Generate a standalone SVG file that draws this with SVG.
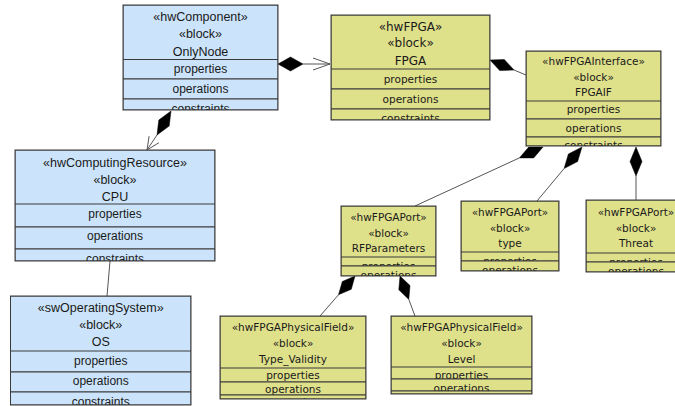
<svg xmlns="http://www.w3.org/2000/svg" width="675" height="406" viewBox="0 0 675 406">
<style>
.bg{fill:#ffffff}
.blue{fill:#cce4fb;stroke:#3a3a3a;stroke-width:1}
.yel{fill:#dfe08a;stroke:#3a3a3a;stroke-width:1}
.border{fill:none;stroke:#3a3a3a;stroke-width:1}
.bt{font-family:"Liberation Sans",Arial,sans-serif;font-size:12.5px;fill:#1a1a1a;text-anchor:middle}
.bc{font-family:"Liberation Sans",Arial,sans-serif;font-size:12px;fill:#1a1a1a;text-anchor:middle}
.yh{font-family:"DejaVu Sans",sans-serif;font-size:12px;fill:#1a1a1a;text-anchor:middle}
.yt{font-family:"DejaVu Sans",sans-serif;font-size:10.5px;fill:#1a1a1a;text-anchor:middle}
.ln{fill:none;stroke:#555555;stroke-width:1}
.dia{fill:#000000;stroke:#000000;stroke-width:0.5}
</style>
<defs>
<clipPath id="cOnly"><rect x="123" y="5" width="155" height="105"/></clipPath>
<clipPath id="cCPU"><rect x="15" y="150" width="200" height="111"/></clipPath>
<clipPath id="cOS"><rect x="10.5" y="296" width="180.5" height="109"/></clipPath>
<clipPath id="cFPGA"><rect x="331" y="15" width="159" height="105"/></clipPath>
<clipPath id="cFPGAIF"><rect x="526" y="51" width="135" height="95"/></clipPath>
<clipPath id="cRF"><rect x="341" y="206" width="95" height="70"/></clipPath>
<clipPath id="cType"><rect x="461" y="201" width="98" height="70"/></clipPath>
<clipPath id="cThreat"><rect x="586" y="200" width="100" height="72"/></clipPath>
<clipPath id="cTV"><rect x="220" y="316" width="146" height="83"/></clipPath>
<clipPath id="cLevel"><rect x="391" y="316" width="141" height="78"/></clipPath>
</defs>
<rect class="bg" x="0" y="0" width="675" height="406"/>

<g id="connectors">
  <!-- OnlyNode to FPGA -->
  <polygon class="dia" points="278,64 290.5,57 303,64 290.5,71"/>
  <line class="ln" x1="303" y1="64" x2="330" y2="64"/>
  <polyline class="ln" points="313,58 330,64 313,70"/>
  <!-- OnlyNode to CPU -->
  <polygon class="dia" points="171,111 169.2,126 157,135 158.8,120"/>
  <line class="ln" x1="157" y1="135" x2="147" y2="150"/>
  <polyline class="ln" points="149.1,136.2 147,150 158.9,142.7"/>
  <!-- CPU to OS -->
  <line class="ln" x1="110" y1="261" x2="107" y2="296"/>
  <!-- FPGA to FPGAIF -->
  <polygon class="dia" points="490,60 499.7,70.5 514,70 504.3,59.5"/>
  <line class="ln" x1="514" y1="70" x2="526" y2="75"/>
  <!-- FPGAIF to RFParameters -->
  <polygon class="dia" points="543,147 533.7,157.9 519.4,157.9 528.7,147.1"/>
  <line class="ln" x1="519.4" y1="157.9" x2="415" y2="206"/>
  <!-- FPGAIF to type -->
  <polygon class="dia" points="582,147 577.6,161.6 564.1,168.5 568.4,154"/>
  <line class="ln" x1="564.1" y1="168.5" x2="537" y2="201"/>
  <!-- FPGAIF to Threat -->
  <polygon class="dia" points="636,147 642,161.5 636,176 630,161.5"/>
  <line class="ln" x1="636" y1="176" x2="636" y2="200"/>
  <!-- RFParameters to Type_Validity -->
  <polygon class="dia" points="355,276 351.3,289.3 338.5,294.8 342.3,281.5"/>
  <line class="ln" x1="338.5" y1="294.8" x2="320" y2="316"/>
  <!-- RFParameters to Level -->
  <polygon class="dia" points="400,276 410,285.6 408.8,299.4 398.8,289.8"/>
  <line class="ln" x1="408.8" y1="299.4" x2="415" y2="316"/>
</g>

<g id="OnlyNode">
  <g clip-path="url(#cOnly)">
    <rect class="blue" x="123" y="5" width="155" height="105"/>
    <text class="bt" x="200.5" y="20.5">«hwComponent»</text>
    <text class="bt" x="200.5" y="37.5">«block»</text>
    <text class="bt" x="200.5" y="55.5">OnlyNode</text>
    <rect class="blue" x="123" y="59.5" width="155" height="19.5"/>
    <text class="bc" x="200.5" y="72.5">properties</text>
    <rect class="blue" x="123" y="79" width="155" height="20"/>
    <text class="bc" x="200.5" y="92.5">operations</text>
    <rect class="blue" x="123" y="99" width="155" height="11"/>
    <text class="bc" x="200.5" y="112.5">constraints</text>
  </g>
  <rect class="border" x="123" y="5" width="155" height="105"/>
</g>

<g id="CPU">
  <g clip-path="url(#cCPU)">
    <rect class="blue" x="15" y="150" width="200" height="111"/>
    <text class="bt" x="115" y="166.5">«hwComputingResource»</text>
    <text class="bt" x="115" y="183.5">«block»</text>
    <text class="bt" x="115" y="200.5">CPU</text>
    <rect class="blue" x="15" y="204" width="200" height="23"/>
    <text class="bc" x="115" y="217.5">properties</text>
    <rect class="blue" x="15" y="227" width="200" height="22"/>
    <text class="bc" x="115" y="239.5">operations</text>
    <rect class="blue" x="15" y="249" width="200" height="12"/>
    <text class="bc" x="115" y="262.5">constraints</text>
  </g>
  <rect class="border" x="15" y="150" width="200" height="111"/>
</g>

<g id="OS">
  <g clip-path="url(#cOS)">
    <rect class="blue" x="10.5" y="296" width="180.5" height="109"/>
    <text class="bt" x="100.75" y="311.5">«swOperatingSystem»</text>
    <text class="bt" x="100.75" y="328.5">«block»</text>
    <text class="bt" x="100.75" y="345.5">OS</text>
    <rect class="blue" x="10.5" y="351" width="180.5" height="21"/>
    <text class="bc" x="100.75" y="364.5">properties</text>
    <rect class="blue" x="10.5" y="372" width="180.5" height="20"/>
    <text class="bc" x="100.75" y="384.5">operations</text>
    <rect class="blue" x="10.5" y="392" width="180.5" height="13"/>
    <text class="bc" x="100.75" y="405.5">constraints</text>
  </g>
  <rect class="border" x="10.5" y="296" width="180.5" height="109"/>
</g>

<g id="FPGA">
  <g clip-path="url(#cFPGA)">
    <rect class="yel" x="331" y="15" width="159" height="105"/>
    <text class="yh" x="410.5" y="31.3">«hwFPGA»</text>
    <text class="yh" x="410.5" y="47.3">«block»</text>
    <text class="yh" x="410.5" y="65.3">FPGA</text>
    <rect class="yel" x="331" y="69" width="159" height="20"/>
    <text class="yt" x="410.5" y="83">properties</text>
    <rect class="yel" x="331" y="89" width="159" height="20"/>
    <text class="yt" x="410.5" y="103">operations</text>
    <rect class="yel" x="331" y="109" width="159" height="11"/>
    <text class="yt" x="410.5" y="122">constraints</text>
  </g>
  <rect class="border" x="331" y="15" width="159" height="105"/>
</g>

<g id="FPGAIF">
  <g clip-path="url(#cFPGAIF)">
    <rect class="yel" x="526" y="51" width="135" height="95"/>
    <text class="yt" x="593.5" y="65">«hwFPGAInterface»</text>
    <text class="yt" x="593.5" y="81">«block»</text>
    <text class="yt" x="593.5" y="96">FPGAIF</text>
    <rect class="yel" x="526" y="101" width="135" height="18"/>
    <text class="yt" x="593.5" y="113">properties</text>
    <rect class="yel" x="526" y="119" width="135" height="18"/>
    <text class="yt" x="593.5" y="132">operations</text>
    <rect class="yel" x="526" y="137" width="135" height="9"/>
    <text class="yt" x="593.5" y="149">constraints</text>
  </g>
  <rect class="border" x="526" y="51" width="135" height="95"/>
</g>

<g id="RFParameters">
  <g clip-path="url(#cRF)">
    <rect class="yel" x="341" y="206" width="95" height="70"/>
    <text class="yt" x="388.5" y="221">«hwFPGAPort»</text>
    <text class="yt" x="388.5" y="237">«block»</text>
    <text class="yt" x="388.5" y="252">RFParameters</text>
    <rect class="yel" x="341" y="257" width="95" height="9"/>
    <text class="yt" x="388.5" y="270">properties</text>
    <rect class="yel" x="341" y="266" width="95" height="10"/>
    <text class="yt" x="388.5" y="279">operations</text>
  </g>
  <rect class="border" x="341" y="206" width="95" height="70"/>
</g>

<g id="type">
  <g clip-path="url(#cType)">
    <rect class="yel" x="461" y="201" width="98" height="70"/>
    <text class="yt" x="510" y="216">«hwFPGAPort»</text>
    <text class="yt" x="510" y="232">«block»</text>
    <text class="yt" x="510" y="247">type</text>
    <rect class="yel" x="461" y="252" width="98" height="9"/>
    <text class="yt" x="510" y="265">properties</text>
    <rect class="yel" x="461" y="261" width="98" height="10"/>
    <text class="yt" x="510" y="274">operations</text>
  </g>
  <rect class="border" x="461" y="201" width="98" height="70"/>
</g>

<g id="Threat">
  <g clip-path="url(#cThreat)">
    <rect class="yel" x="586" y="200" width="100" height="72"/>
    <text class="yt" x="636" y="216">«hwFPGAPort»</text>
    <text class="yt" x="636" y="232">«block»</text>
    <text class="yt" x="636" y="247">Threat</text>
    <rect class="yel" x="586" y="253" width="100" height="9"/>
    <text class="yt" x="636" y="266">properties</text>
    <rect class="yel" x="586" y="262" width="100" height="10"/>
    <text class="yt" x="636" y="275">operations</text>
  </g>
  <rect class="border" x="586" y="200" width="100" height="72"/>
</g>

<g id="Type_Validity">
  <g clip-path="url(#cTV)">
    <rect class="yel" x="220" y="316" width="146" height="83"/>
    <text class="yt" x="293" y="331">«hwFPGAPhysicalField»</text>
    <text class="yt" x="293" y="347">«block»</text>
    <text class="yt" x="293" y="363">Type_Validity</text>
    <rect class="yel" x="220" y="368" width="146" height="14"/>
    <text class="yt" x="293" y="379">properties</text>
    <rect class="yel" x="220" y="382" width="146" height="13"/>
    <text class="yt" x="293" y="393">operations</text>
    <rect class="yel" x="220" y="395" width="146" height="4"/>
    <text class="yt" x="293" y="406">constraints</text>
  </g>
  <rect class="border" x="220" y="316" width="146" height="83"/>
</g>

<g id="Level">
  <g clip-path="url(#cLevel)">
    <rect class="yel" x="391" y="316" width="141" height="78"/>
    <text class="yt" x="461.5" y="331">«hwFPGAPhysicalField»</text>
    <text class="yt" x="461.5" y="347">«block»</text>
    <text class="yt" x="461.5" y="363">Level</text>
    <rect class="yel" x="391" y="367" width="141" height="12"/>
    <text class="yt" x="461.5" y="379">properties</text>
    <rect class="yel" x="391" y="379" width="141" height="12"/>
    <text class="yt" x="461.5" y="392">operations</text>
    <rect class="yel" x="391" y="391" width="141" height="3"/>
    <text class="yt" x="461.5" y="404">constraints</text>
  </g>
  <rect class="border" x="391" y="316" width="141" height="78"/>
</g>
</svg>
